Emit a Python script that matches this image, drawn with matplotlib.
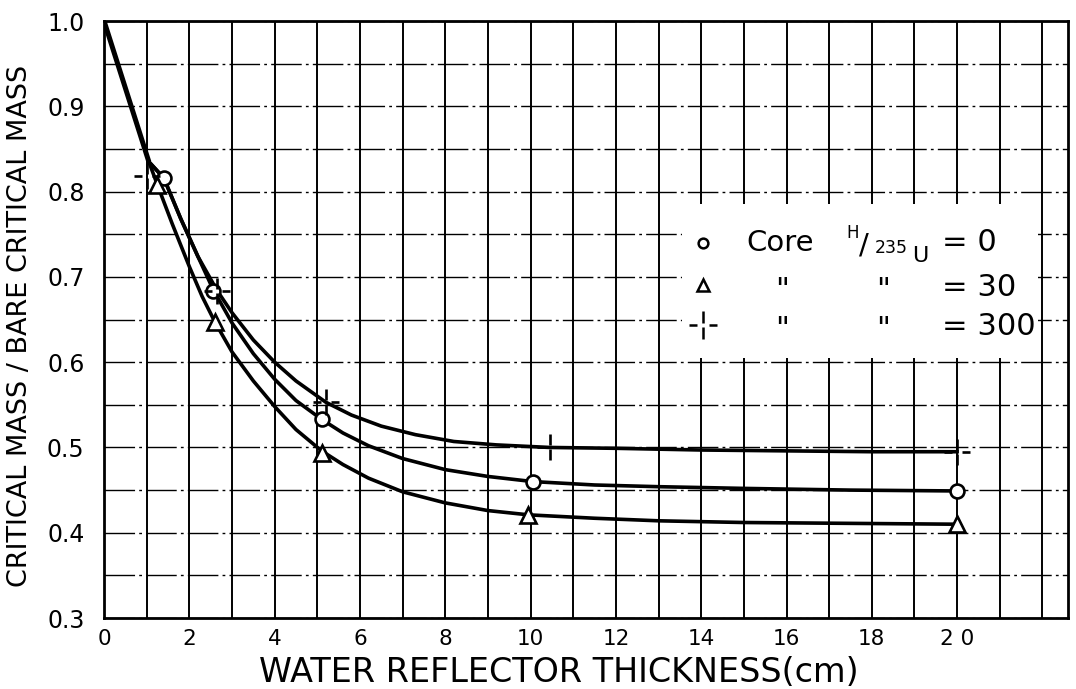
import numpy as np
import matplotlib
matplotlib.use("Agg")
import matplotlib.pyplot as plt
from matplotlib.path import Path
from matplotlib.patches import Rectangle

plt.rcParams.update({"font.family": "DejaVu Sans", "axes.linewidth": 2.0})

h0_x = [1.4, 2.55, 5.1, 10.05, 20.0]
h0_y = [0.816, 0.684, 0.533, 0.460, 0.449]
h30_x = [1.25, 2.6, 5.1, 9.95, 20.0]
h30_y = [0.808, 0.647, 0.494, 0.421, 0.410]
h300_x = [1.0, 2.65, 5.2, 10.45, 20.0]
h300_y = [0.818, 0.684, 0.553, 0.501, 0.495]

# ---- hand-drawn curves ----
common_x = [0.0, 1.05]
common_y = [1.0, 0.835]
c0_x = [1.05, 1.4, 1.8, 2.2, 2.55, 3.0, 3.5, 4.0, 4.5, 5.1, 5.6, 6.2, 7.0, 8.0, 9.0, 10.05, 11.5, 13, 15, 17.5, 20]
c0_y = [0.835, 0.816, 0.768, 0.724, 0.686, 0.646, 0.610, 0.580, 0.555, 0.533, 0.517, 0.502, 0.487, 0.474, 0.466, 0.460, 0.456, 0.454, 0.452, 0.450, 0.449]
c30_x = [1.05, 1.25, 1.6, 2.0, 2.3, 2.6, 3.0, 3.5, 4.0, 4.5, 5.1, 5.6, 6.2, 7.0, 8.0, 9.0, 9.95, 11.5, 13, 15, 17.5, 20]
c30_y = [0.835, 0.808, 0.762, 0.712, 0.677, 0.647, 0.612, 0.578, 0.548, 0.521, 0.496, 0.480, 0.464, 0.448, 0.435, 0.426, 0.421, 0.417, 0.414, 0.412, 0.411, 0.410]
c300_x = [1.05, 1.4, 1.8, 2.2, 2.65, 3.0, 3.5, 4.0, 4.5, 5.2, 5.8, 6.5, 7.3, 8.2, 9.2, 10.45, 12, 14, 16, 18, 20]
c300_y = [0.835, 0.816, 0.768, 0.724, 0.684, 0.658, 0.626, 0.600, 0.578, 0.553, 0.538, 0.525, 0.515, 0.507, 0.503, 0.500, 0.499, 0.497, 0.496, 0.495, 0.495]

xticks = list(range(0, 21, 2))
xticklabels = [str(v) for v in xticks[:-1]] + ["2 0"]
yticks = [0.3, 0.4, 0.5, 0.6, 0.7, 0.8, 0.9, 1.0]
yticklabels = ["0.3", "0.4", "0.5", "0.6", "0.7", "0.8", "0.9", "1.0"]

# broken cross marker  -|-
cross = Path([(-1, 0), (-0.4, 0), (0.4, 0), (1, 0), (0, -1), (0, -0.12), (0, 0.12), (0, 1)],
             [Path.MOVETO, Path.LINETO] * 4)

fig = plt.figure(figsize=(10.76, 6.89), dpi=100)
ax = fig.add_axes([0.0967, 0.103, 0.8959, 0.8665])
ax.set_xlim(0, 22.6)
ax.set_ylim(0.3, 1.0)

# graph paper
ax.set_axisbelow(True)
ax.set_xticks(xticks)
ax.set_xticks(np.arange(1, 23, 1), minor=True)
ax.set_yticks(yticks)
ax.set_yticks(np.arange(0.35, 1.0, 0.1), minor=True)
ax.grid(axis="x", which="both", color="black", lw=1.4)
ax.grid(axis="y", which="both", color="black", lw=1.0, linestyle=(0, (22, 3, 2, 3)))
ax.tick_params(which="both", length=0)
ax.tick_params(axis="x", labelsize=15.5, pad=8)
ax.tick_params(axis="y", labelsize=17, pad=14)
ax.set_xticklabels(xticklabels)
ax.set_yticklabels(yticklabels)

# curves
ax.plot(common_x, common_y, color="black", lw=3.6, solid_capstyle="butt", zorder=3)
for cx, cy in [(c0_x, c0_y), (c30_x, c30_y), (c300_x, c300_y)]:
    ax.plot(cx, cy, color="black", lw=2.6, solid_joinstyle="round", zorder=3)

# points
ax.plot(h0_x, h0_y, ls="none", marker="o", ms=10, mfc="white", mec="black", mew=1.9, zorder=5)
ax.plot(h30_x, h30_y, ls="none", marker="^", ms=11, mfc="white", mec="black", mew=1.9, zorder=5)
ax.plot(h300_x, h300_y, ls="none", marker=cross, ms=19, mfc="none", mec="black", mew=1.9, zorder=6)

# legend block (white patch over the grid)
ax.add_patch(Rectangle((13.55, 0.605), 8.35, 0.18, fc="white", ec="none", zorder=1))
ax.plot([14.04], [0.74], marker="o", ms=7, mfc="white", mec="black", mew=1.8, zorder=5)
ax.plot([14.04], [0.690], marker="^", ms=8, mfc="white", mec="black", mew=1.8, zorder=5)
ax.plot([14.04], [0.643], marker=cross, ms=20, mfc="none", mec="black", mew=1.8, zorder=5)
ax.text(15.85, 0.74, "Core", fontsize=21, ha="center", va="center")
ax.text(17.54, 0.752, "H", fontsize=12, ha="center", va="center")
ax.text(17.82, 0.737, "/", fontsize=21, ha="center", va="center")
ax.text(18.45, 0.734, "235", fontsize=12.5, ha="center", va="center")
ax.text(19.13, 0.725, "U", fontsize=16, ha="center", va="center")
for yy, val in [(0.74, "= 0"), (0.688, "= 30"), (0.642, "= 300")]:
    ax.text(19.65, yy, val, fontsize=22, ha="left", va="center")
for yy in [0.684, 0.638]:
    ax.text(15.9, yy, '"', fontsize=22, ha="center", va="center")
    ax.text(18.27, yy, '"', fontsize=22, ha="center", va="center")

ax.set_xlabel("WATER REFLECTOR THICKNESS(cm)", fontsize=24)
ax.xaxis.set_label_coords(0.472, -0.064)
ax.set_ylabel("CRITICAL MASS / BARE CRITICAL MASS", fontsize=19.5)
ax.yaxis.set_label_coords(-0.074, 0.49)

fig.savefig("out.png", dpi=100)
